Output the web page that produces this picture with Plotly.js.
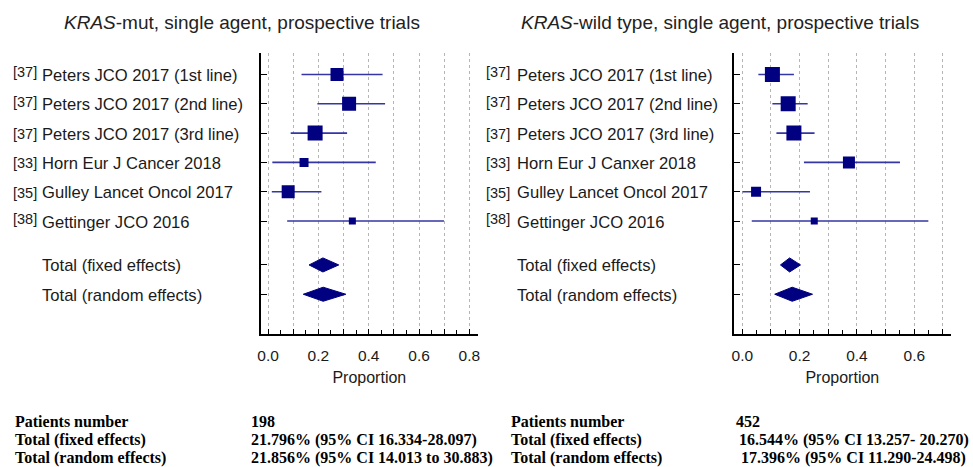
<!DOCTYPE html>
<html>
<head>
<meta charset="utf-8">
<script src="https://cdn.plot.ly/plotly-3.0.1.min.js"></script>
<style>html,body{margin:0;padding:0;background:#fff;}#chart{width:973px;height:467px;}</style>
</head>
<body>
<div id="chart"></div>
<script>
// ---------- DATA ----------
const mutRefs = ['[37]', '[37]', '[37]', '[33]', '[35]', '[38]'];
const mutNames = ['Peters JCO 2017 (1st line)', 'Peters JCO 2017 (2nd line)', 'Peters JCO 2017 (3rd line)',
  'Horn Eur J Cancer 2018', 'Gulley Lancet Oncol 2017', 'Gettinger JCO 2016'];
const mutEst = [0.274, 0.322, 0.187, 0.143, 0.080, 0.335];
const mutLo  = [0.133, 0.196, 0.090, 0.017, 0.015, 0.076];
const mutHi  = [0.455, 0.465, 0.314, 0.428, 0.212, 0.699];
const mutFixed  = [0.218, 0.163, 0.281];   // estimate, lower, upper
const mutRandom = [0.219, 0.140, 0.309];

const wtRefs = ['[37]', '[37]', '[37]', '[33]', '[35]', '[38]'];
const wtNames = ['Peters JCO 2017 (1st line)', 'Peters JCO 2017 (2nd line)', 'Peters JCO 2017 (3rd line)',
  'Horn Eur J Canxer 2018', 'Gulley Lancet Oncol 2017', 'Gettinger JCO 2016'];
const wtEst = [0.105, 0.160, 0.180, 0.372, 0.048, 0.251];
const wtLo  = [0.056, 0.105, 0.119, 0.215, 0.001, 0.033];
const wtHi  = [0.180, 0.228, 0.252, 0.550, 0.236, 0.649];
const wtFixed  = [0.165, 0.133, 0.203];
const wtRandom = [0.174, 0.113, 0.245];

const totalLabels = ['Total (fixed effects)', 'Total (random effects)'];
const xTickVals = [0, 0.1, 0.2, 0.3, 0.4, 0.5, 0.6, 0.7, 0.8];
const xTickText = ['0.0', '', '0.2', '', '0.4', '', '0.6', '', '0.8'];

const mutSummary = [['Patients number', '198'],
  ['Total (fixed effects)', '21.796% (95% CI 16.334-28.097)'],
  ['Total (random effects)', '21.856% (95% CI 14.013 to 30.883)']];
const wtSummary = [['Patients number', '452'],
  ['Total (fixed effects)', '16.544% (95% CI 13.257- 20.270)'],
  ['Total (random effects)', '17.396% (95% CI 11.290-24.498)']];

// ---------- STYLE / LAYOUT CONSTANTS ----------
const W = 973, H = 467;
const mutMarkerSize = [13, 14, 15, 9, 13, 7];
const wtMarkerSize = [15, 15, 15, 12, 10, 7];
const raised = [true, true, false, false, false, true];
const NAVY = '#000080', CI = '#3535a5';
const studyRows = [1, 2, 3, 4, 5, 6];
const fixedRow = 7.5, randomRow = 8.5;
const dH = 0.24;
const sans = 'Liberation Sans, Arial, sans-serif';
const serif = 'Liberation Serif, Times New Roman, serif';

function px(x) { return x / W; }
function py(y) { return 1 - y / H; }

function panelTraces(est, lo, hi, sizes, fixed, random, xa, ya) {
  const tr = [];
  tr.push({
    type: 'scatter', mode: 'markers', x: est, y: studyRows, xaxis: xa, yaxis: ya,
    marker: { symbol: 'square', size: sizes, color: NAVY, opacity: 1, line: { width: 0 } },
    error_x: {
      type: 'data', symmetric: false,
      array: est.map((e, i) => hi[i] - e), arrayminus: est.map((e, i) => e - lo[i]),
      color: CI, thickness: 1.6, width: 0
    },
    hoverinfo: 'skip', showlegend: false
  });
  [[fixed, fixedRow], [random, randomRow]].forEach(([d, r]) => {
    tr.push({
      type: 'scatter', mode: 'lines', xaxis: xa, yaxis: ya,
      x: [d[1], d[0], d[2], d[0], d[1]], y: [r, r - dH, r, r + dH, r],
      fill: 'toself', fillcolor: NAVY, line: { color: NAVY, width: 1 },
      hoverinfo: 'skip', showlegend: false
    });
  });
  return tr;
}

const data = [].concat(
  panelTraces(mutEst, mutLo, mutHi, mutMarkerSize, mutFixed, mutRandom, 'x', 'y'),
  panelTraces(wtEst, wtLo, wtHi, wtMarkerSize, wtFixed, wtRandom, 'x2', 'y2')
);

function xAxis(domain, range, tv, tt) {
  return {
    domain: domain, range: range, tickvals: tv, ticktext: tt,
    ticks: 'inside', ticklen: 5, tickwidth: 1, tickcolor: '#000',
    showline: true, linecolor: '#000', linewidth: 2,
    showgrid: true, gridcolor: '#b5b5b5', griddash: 'dot', gridwidth: 1,
    zeroline: false,
    minor: { dtick: 0.05, tick0: 0, ticks: 'inside', ticklen: 4, tickcolor: '#000', showgrid: false },
    tickfont: { family: sans, size: 15.5, color: '#1a1a1a' },
    ticklabelstandoff: 6,
    title: { text: 'Proportion', font: { family: sans, size: 16, color: '#1a1a1a' }, standoff: 9 },
    fixedrange: true
  };
}
function yAxis(anchor) {
  return {
    domain: [py(334), py(53)], range: [9.857, 0.266], anchor: anchor,
    tickvals: studyRows.concat([fixedRow, randomRow]), showticklabels: false,
    ticks: 'inside', ticklen: 6, tickcolor: '#000', tickwidth: 1,
    showline: true, linecolor: '#000', linewidth: 2,
    showgrid: false, zeroline: false, fixedrange: true
  };
}

const annotations = [];
function addLabels(refs, names, refX, nameX, yref) {
  refs.forEach((r, i) => {
    annotations.push({ text: r, xref: 'paper', yref: yref, x: px(refX), y: studyRows[i],
      xanchor: 'left', yanchor: 'middle', showarrow: false, yshift: raised[i] ? 2 : -1,
      font: { family: sans, size: 14.5, color: '#1a1a1a' } });
    annotations.push({ text: names[i], xref: 'paper', yref: yref, x: px(nameX), y: studyRows[i],
      xanchor: 'left', yanchor: 'middle', showarrow: false, yshift: -1,
      font: { family: sans, size: 16.6, color: '#1a1a1a' } });
  });
  [fixedRow, randomRow].forEach((r, i) => {
    annotations.push({ text: totalLabels[i], xref: 'paper', yref: yref, x: px(nameX), y: r,
      xanchor: 'left', yanchor: 'middle', showarrow: false, yshift: -1,
      font: { family: sans, size: 16.6, color: '#1a1a1a' } });
  });
}
addLabels(mutRefs, mutNames, 11, 40, 'y');
addLabels(wtRefs, wtNames, 484, 515, 'y2');

annotations.push({ text: '<i>KRAS</i>-mut, single agent, prospective trials', xref: 'paper', yref: 'paper',
  x: px(242), y: py(22), xanchor: 'center', yanchor: 'middle', showarrow: false,
  font: { family: sans, size: 19, color: '#222' } });
annotations.push({ text: '<i>KRAS</i>-wild type, single agent, prospective trials', xref: 'paper', yref: 'paper',
  x: px(720), y: py(22), xanchor: 'center', yanchor: 'middle', showarrow: false,
  font: { family: sans, size: 19, color: '#222' } });

function addSummary(rows, labelX, valueXs) {
  const ys = [421, 439.5, 458];
  rows.forEach((row, i) => {
    annotations.push({ text: '<b>' + row[0] + '</b>', xref: 'paper', yref: 'paper', x: px(labelX), y: py(ys[i]),
      xanchor: 'left', yanchor: 'middle', showarrow: false, font: { family: serif, size: 16, color: '#000' } });
    annotations.push({ text: '<b>' + row[1] + '</b>', xref: 'paper', yref: 'paper', x: px(valueXs[i]), y: py(ys[i]),
      xanchor: 'left', yanchor: 'middle', showarrow: false, font: { family: serif, size: 16, color: '#000' } });
  });
}
addSummary(mutSummary, 13, [249, 249, 249]);
addSummary(wtSummary, 509, [734, 737, 739]);

const layout = {
  width: W, height: H, margin: { l: 0, r: 0, t: 0, b: 0 },
  paper_bgcolor: '#fff', plot_bgcolor: 'rgba(0,0,0,0)', showlegend: false,
  xaxis: Object.assign(xAxis([px(261), px(477.7)], [-0.028, 0.833], xTickVals, xTickText), { anchor: 'y' }),
  yaxis: yAxis('x'),
  xaxis2: Object.assign(xAxis([px(734), px(950.7)], [-0.029, 0.727], xTickVals.slice(0, 8), xTickText.slice(0, 8)), { anchor: 'y2' }),
  yaxis2: yAxis('x2'),
  annotations: annotations
};

Plotly.newPlot('chart', data, layout, { displayModeBar: false, staticPlot: true });
</script>
</body>
</html>
